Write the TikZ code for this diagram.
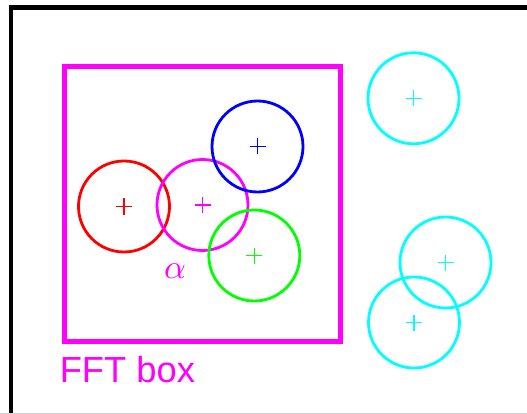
\documentclass[tikz,border=0pt]{standalone}
\usepackage{fontspec}
\setsansfont{Liberation Sans}
\definecolor{cMag}{RGB}{255,0,255}
\definecolor{cCyan}{RGB}{0,255,255}
\definecolor{cRed}{RGB}{255,0,0}
\definecolor{cBlue}{RGB}{0,0,255}
\definecolor{cGreen}{RGB}{0,255,0}
\begin{document}
\begin{tikzpicture}[x=1pt,y=-1pt,
  ring/.style={draw=#1,line width=2.8pt,circle,minimum size=91pt,inner sep=0pt},
  ctr/.style={draw=#1,line width=1.1pt},
]
\useasboundingbox (0,0) rectangle (527,414);
\fill[white] (0,0) rectangle (527,414);
% outer frame (clipped on right/bottom)
\begin{scope}
\clip (0,0) rectangle (527,414);
\draw[black,line width=4.6pt] (10.8,7.5) rectangle (540,430);
\draw[black!18,line width=0.8pt] (0,413.6) -- (527,413.6);
\end{scope}
% FFT box
\node[draw=cMag,line width=5pt,minimum width=276pt,minimum height=274.5pt,inner sep=0pt] (fftbox) at (202,204.25) {};
\node[anchor=base west,inner sep=0pt,text=cMag,font=\sffamily\fontsize{36.3}{40}\selectfont] (fftlabel) at (59.6,382.3) {FFT box};
% circles
\node[ring=cRed] (red) at (124,206.5) {};
\node[ring=cMag] (mag) at (202.5,205) {};
\node[ring=cBlue] (blue) at (257.5,146.5) {};
\node[ring=cGreen] (green) at (254.3,255.5) {};
\node[ring=cCyan] (cyan1) at (413.5,98.3) {};
\node[ring=cCyan] (cyan2) at (445.5,262.5) {};
\node[ring=cCyan] (cyan3) at (414,322.5) {};
% centre marks
\foreach \n/\c in {red/cRed,mag/cMag,blue/cBlue,green/cGreen,cyan1/cCyan,cyan2/cCyan,cyan3/cCyan}{
  \draw[ctr=\c] ([xshift=-8pt]\n.center) -- ([xshift=8pt]\n.center);
  \draw[ctr=\c] ([yshift=-8pt]\n.center) -- ([yshift=8pt]\n.center);
}
\node[text=cMag,inner sep=0pt] (alpha) at (175,271) {\scalebox{3.4}{$\alpha$}};
\end{tikzpicture}
\end{document}
